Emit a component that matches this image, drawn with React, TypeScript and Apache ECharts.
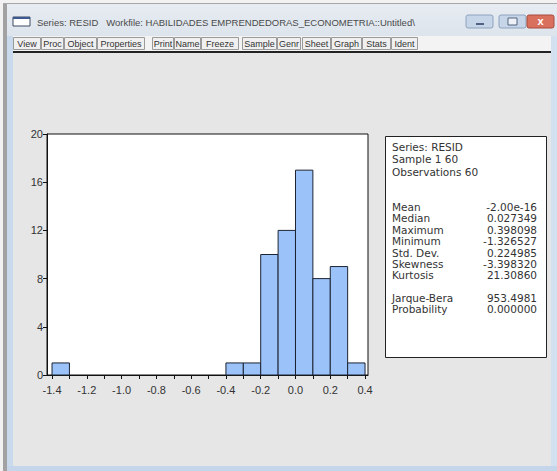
import React, { useEffect, useRef } from "react";
import * as echarts from "echarts";

// ---- data ----
const binStarts = [-1.4, -1.3, -1.2, -1.1, -1.0, -0.9, -0.8, -0.7, -0.6, -0.5, -0.4, -0.3, -0.2, -0.1, 0.0, 0.1, 0.2, 0.3];
const binWidth = 0.1;
const counts = [1, 0, 0, 0, 0, 0, 0, 0, 0, 0, 1, 1, 10, 12, 17, 8, 9, 1];
const xLabelValues = [-1.4, -1.2, -1.0, -0.8, -0.6, -0.4, -0.2, 0.0, 0.2, 0.4];
const xTickValues = [-1.4, -1.3, -1.2, -1.1, -1.0, -0.9, -0.8, -0.7, -0.6, -0.5, -0.4, -0.3, -0.2, -0.1, 0.0, 0.1, 0.2, 0.3, 0.4];
const headerLines = ["Series: RESID", "Sample 1 60", "Observations 60"];
const statNames = ["Mean", "Median", "Maximum", "Minimum", "Std. Dev.", "Skewness", "Kurtosis"];
const statValues = ["-2.00e-16", "0.027349", "0.398098", "-1.326527", "0.224985", "-3.398320", "21.30860"];
const testNames = ["Jarque-Bera", "Probability"];
const testValues = ["953.4981", "0.000000"];
const toolbarButtons = ["View", "Proc", "Object", "Properties", "Print", "Name", "Freeze", "Sample", "Genr", "Sheet", "Graph", "Stats", "Ident"];
const windowTitle = "Series: RESID   Workfile: HABILIDADES EMPRENDEDORAS_ECONOMETRIA::Untitled\\";

const FONT = "Liberation Sans, Arial, sans-serif";
const STAT_FONT = "DejaVu Sans, Liberation Sans, sans-serif";

export default function App() {
  const ref = useRef<HTMLDivElement>(null);
  useEffect(() => {
    if (!ref.current) return;
    const chart = echarts.init(ref.current, null, { renderer: "svg" });

    const graphics: any[] = [];
    // window frame
    graphics.push({ type: "rect", z: -10, shape: { x: 0, y: 0, width: 557, height: 471 }, style: { fill: "#e6e6e6" } });
    graphics.push({ type: "rect", z: -9, shape: { x: 0, y: 0, width: 557, height: 4 }, style: { fill: "#f2f2f2" } });
    graphics.push({ type: "rect", z: -9, shape: { x: 0, y: 0, width: 3, height: 471 }, style: { fill: "#f2f2f2" } });
    graphics.push({ type: "rect", z: -9, shape: { x: 3, y: 3, width: 4, height: 468 }, style: { fill: "#a2a2a2" } });
    graphics.push({ type: "rect", z: -9, shape: { x: 7, y: 4, width: 6, height: 467 }, style: { fill: "#c9daed" } });
    graphics.push({ type: "rect", z: -9, shape: { x: 551, y: 4, width: 6, height: 467 }, style: { fill: "#d2e0f0" } });
    graphics.push({ type: "rect", z: -9, shape: { x: 7, y: 466, width: 550, height: 5 }, style: { fill: "#c5d6ea" } });
    graphics.push({ type: "rect", z: -9, shape: { x: 3, y: 3, width: 554, height: 1 }, style: { fill: "#a8a8a8" } });
    // title bar
    graphics.push({
      type: "rect", z: -8, shape: { x: 7, y: 4, width: 550, height: 32 },
      style: { fill: new echarts.graphic.LinearGradient(0, 0, 0, 1, [{ offset: 0, color: "#e7ecf2" }, { offset: 1, color: "#dde4ec" }]) },
    });
    graphics.push({ type: "rect", z: -7, shape: { x: 13, y: 17, width: 17, height: 9 }, style: { fill: "#ffffff", stroke: "#3c4a66", lineWidth: 1 } });
    graphics.push({ type: "rect", z: -7, shape: { x: 13, y: 17, width: 17, height: 2 }, style: { fill: "#3c5a90" } });
    graphics.push({ type: "text", z: -7, style: { text: windowTitle, x: 37, y: 22, fill: "#4a4a4a", font: "9.5px " + FONT, textVerticalAlign: "middle" } });
    // window buttons
    graphics.push({ type: "rect", z: -7, shape: { x: 466, y: 15, width: 27, height: 13, r: 2 }, style: { fill: "#c6d5e8", stroke: "#8ea3bd", lineWidth: 1 } });
    graphics.push({ type: "rect", z: -7, shape: { x: 476, y: 23, width: 8, height: 2 }, style: { fill: "#50627e" } });
    graphics.push({ type: "rect", z: -7, shape: { x: 499, y: 15, width: 27, height: 13, r: 2 }, style: { fill: "#c6d5e8", stroke: "#8ea3bd", lineWidth: 1 } });
    graphics.push({ type: "rect", z: -7, shape: { x: 508, y: 18, width: 9, height: 7 }, style: { fill: "#eef2f8", stroke: "#50627e", lineWidth: 1 } });
    graphics.push({ type: "rect", z: -7, shape: { x: 527, y: 15, width: 27, height: 13, r: 2 }, style: { fill: "#d9705d", stroke: "#a84b3c", lineWidth: 1 } });
    graphics.push({ type: "text", z: -7, style: { text: "x", x: 540.5, y: 21, fill: "#ffffff", font: "bold 11px " + FONT, textAlign: "center", textVerticalAlign: "middle" } });
    // toolbar
    graphics.push({ type: "rect", z: -8, shape: { x: 13, y: 36, width: 538, height: 15 }, style: { fill: "#f3f3f3" } });
    const btnX = [13, 41, 64, 97, 152, 174, 201, 242, 277, 302, 331, 362, 391];
    const btnW = [27, 22, 32, 47, 21, 26, 37, 34, 23, 28, 30, 28, 26];
    toolbarButtons.forEach((b, i) => {
      graphics.push({ type: "rect", z: -7, shape: { x: btnX[i] + 0.5, y: 37.5, width: btnW[i], height: 12 }, style: { fill: "#f0f0f0", stroke: "#9a9a9a", lineWidth: 1 } });
      graphics.push({ type: "text", z: -7, style: { text: b, x: btnX[i] + 0.5 + btnW[i] / 2, y: 44, fill: "#333", font: "9px " + FONT, textAlign: "center", textVerticalAlign: "middle" } });
    });
    graphics.push({ type: "rect", z: -7, shape: { x: 13, y: 51, width: 538, height: 2 }, style: { fill: "#222" } });

    // stats box
    graphics.push({ type: "rect", z: -5, shape: { x: 385.5, y: 136.5, width: 161, height: 221 }, style: { fill: "#ffffff", stroke: "#222", lineWidth: 1 } });
    const tfont = "10.5px " + STAT_FONT;
    const rowH = 11.4;
    headerLines.forEach((t, i) => {
      graphics.push({ type: "text", style: { text: t, x: 392, y: 147 + i * 12.3, fill: "#333", font: tfont, textVerticalAlign: "middle" } });
    });
    statNames.forEach((t, i) => {
      graphics.push({ type: "text", style: { text: t, x: 392, y: 207 + i * rowH, fill: "#333", font: tfont, textVerticalAlign: "middle" } });
      graphics.push({ type: "text", style: { text: statValues[i], x: 537, y: 207 + i * rowH, fill: "#333", font: tfont, textAlign: "right", textVerticalAlign: "middle" } });
    });
    testNames.forEach((t, i) => {
      graphics.push({ type: "text", style: { text: t, x: 392, y: 298 + i * rowH, fill: "#333", font: tfont, textVerticalAlign: "middle" } });
      graphics.push({ type: "text", style: { text: testValues[i], x: 537, y: 298 + i * rowH, fill: "#333", font: tfont, textAlign: "right", textVerticalAlign: "middle" } });
    });

    const data = binStarts.map((s, i) => [s, s + binWidth, counts[i]]);

    chart.setOption({
      animation: false,
      backgroundColor: "#e6e6e6",
      graphic: graphics,
      grid: { left: 47, top: 134, width: 321, height: 241, show: true, backgroundColor: "#ffffff", borderColor: "#111", borderWidth: 1 },
      xAxis: {
        type: "value",
        min: -1.429,
        max: 0.417,
        splitLine: { show: false },
        axisLine: { show: true, onZero: false, lineStyle: { color: "#111", width: 1 } },
        axisTick: { show: true, customValues: xTickValues, length: 4, lineStyle: { color: "#111" } },
        axisLabel: {
          customValues: xLabelValues, margin: 9, color: "#333", fontSize: 11, fontFamily: FONT,
          formatter: (v: number) => v.toFixed(1),
        },
      },
      yAxis: {
        type: "value",
        min: 0,
        max: 20,
        interval: 4,
        splitLine: { show: false },
        axisLine: { show: true, onZero: false, lineStyle: { color: "#111", width: 1 } },
        axisTick: { show: true, length: 4, lineStyle: { color: "#111" } },
        axisLabel: { margin: 4, color: "#333", fontSize: 11, fontFamily: FONT },
      },
      series: [
        {
          type: "custom",
          data,
          encode: { x: [0, 1], y: 2 },
          renderItem: (params: any, api: any) => {
            const lo = api.value(0);
            const hi = api.value(1);
            const c = api.value(2);
            if (!c) return null;
            const p1 = api.coord([lo, c]);
            const p2 = api.coord([hi, 0]);
            return {
              type: "rect",
              shape: { x: p1[0], y: p1[1], width: p2[0] - p1[0], height: p2[1] - p1[1] },
              style: { fill: "#9cc3f9", stroke: "#1c2433", lineWidth: 1 },
            };
          },
        },
      ],
    });
    return () => chart.dispose();
  }, []);
  return <div ref={ref} style={{ position: "absolute", left: 0, top: 0, width: 557, height: 471 }} />;
}
